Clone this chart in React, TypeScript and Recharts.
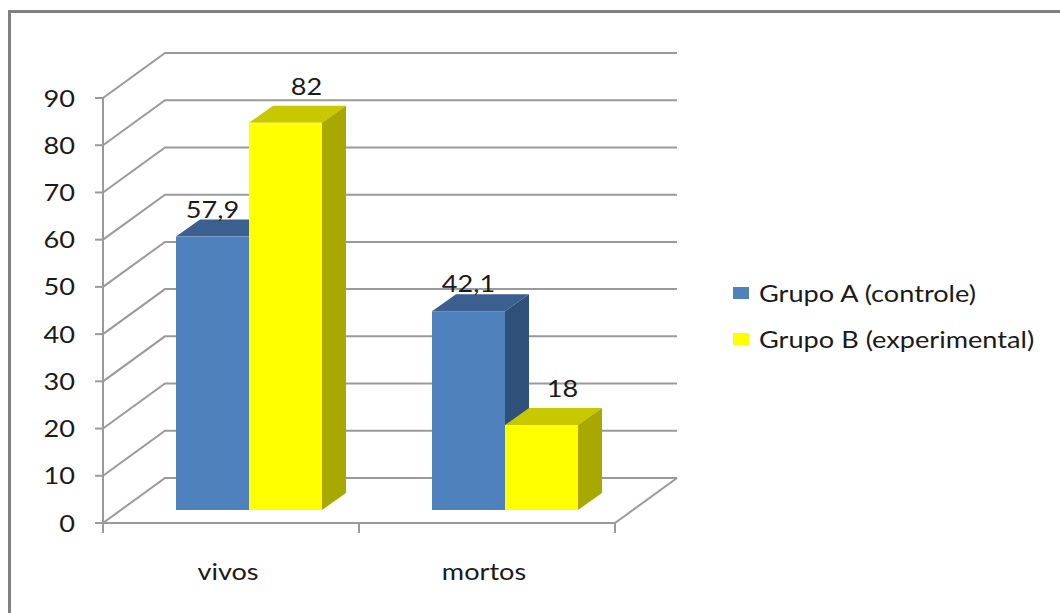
import { BarChart, Bar, XAxis, YAxis, CartesianGrid, Legend, LabelList } from 'recharts';

const categories = ['vivos', 'mortos'];
const grupoA = [57.9, 42.1];
const grupoB = [82, 18];
const yTicks = [0, 10, 20, 30, 40, 50, 60, 70, 80, 90];
const seriesNames = ['Grupo A (controle)', 'Grupo B (experimental)'];

const data = categories.map((name, i) => ({ name, a: grupoA[i], b: grupoB[i] }));

// layout of the fake 3D box
const PLOT_LEFT = 103;
const PLOT_RIGHT = 615;
const PLOT_BOTTOM = 523;
const HALF_BAND = (PLOT_RIGHT - PLOT_LEFT) / categories.length / 2;
const WALL_DX = 62;
const WALL_DY = -45;
const BAR_OX = 18;
const BAR_OY = -13;
const DEPTH_X = 24;
const DEPTH_Y = -17;
const FONT = 'Lato, "Open Sans", sans-serif';
const GRID = '#9a9a9a';
const TEXT = '#1a1a1a';
const SX = 1.13; // the original text is a little stretched sideways

const fmt = (v: number) => String(v).replace('.', ',');

function SText({ x, y, anchor, children, dy }: any) {
    return (
        <text
            transform={`translate(${x},${y}) scale(${SX},1)`}
            textAnchor={anchor}
            dy={dy}
            fontFamily={FONT}
            fontSize={24}
            fill={TEXT}
        >
            {children}
        </text>
    );
}

function box3d(front: string, top: string, side: string) {
    return (props: any) => {
        const { x, y, width, height } = props;
        const fx = x + BAR_OX;
        const fy = y + BAR_OY;
        return (
            <g>
                <polygon
                    points={`${fx},${fy} ${fx + DEPTH_X},${fy + DEPTH_Y} ${fx + width + DEPTH_X},${fy + DEPTH_Y} ${fx + width},${fy}`}
                    fill={top}
                />
                <polygon
                    points={`${fx + width},${fy} ${fx + width + DEPTH_X},${fy + DEPTH_Y} ${fx + width + DEPTH_X},${fy + height + DEPTH_Y} ${fx + width},${fy + height}`}
                    fill={side}
                />
                <rect x={fx} y={fy} width={width} height={height} fill={front} />
            </g>
        );
    };
}

function valueLabel(dx: number, dy: number) {
    return (props: any) => {
        const { x, y, width, value } = props;
        return (
            <SText x={x + BAR_OX + width / 2 + dx} y={y + BAR_OY + DEPTH_Y + dy} anchor="middle">
                {fmt(value)}
            </SText>
        );
    };
}

function wallLine(props: any) {
    const { x1, x2, y1 } = props;
    const y = y1;
    const isFloor = Math.abs(y - PLOT_BOTTOM) < 1;
    return (
        <g key={`wall-${y}`}>
            <polyline
                points={`${x1},${y} ${x1 + WALL_DX},${y + WALL_DY} ${x2 + WALL_DX},${y + WALL_DY}`}
                fill="none"
                stroke={GRID}
                strokeWidth={2}
            />
            {isFloor && (
                <line x1={x2} y1={y} x2={x2 + WALL_DX} y2={y + WALL_DY} stroke={GRID} strokeWidth={2} />
            )}
        </g>
    );
}

function XTick(props: any) {
    const { x, payload, index } = props;
    return (
        <g>
            <line x1={x - HALF_BAND} y1={PLOT_BOTTOM} x2={x - HALF_BAND} y2={PLOT_BOTTOM + 10} stroke={GRID} strokeWidth={2} />
            {index === categories.length - 1 && (
                <line x1={x + HALF_BAND} y1={PLOT_BOTTOM} x2={x + HALF_BAND} y2={PLOT_BOTTOM + 10} stroke={GRID} strokeWidth={2} />
            )}
            <SText x={x - 3} y={580} anchor="middle">
                {payload.value}
            </SText>
        </g>
    );
}

function YTick(props: any) {
    const { x, y, payload } = props;
    return (
        <SText x={x} y={y} anchor="end" dy="0.355em">
            {payload.value}
        </SText>
    );
}

function LegendBox() {
    const colors = ['#4F81BD', '#FFFF00'];
    return (
        <div style={{ fontFamily: FONT, fontSize: 23, color: TEXT }}>
            {seriesNames.map((n, i) => (
                <div key={n} style={{ display: 'flex', alignItems: 'center', height: 46 }}>
                    <span style={{ display: 'inline-block', width: 16, height: 12, background: colors[i], marginRight: 10 }} />
                    <span style={{ display: 'inline-block', transform: 'scaleX(1.18)', transformOrigin: 'left center', whiteSpace: 'nowrap' }}>
                        {n}
                    </span>
                </div>
            ))}
        </div>
    );
}

export default function App() {
    return (
        <div style={{ position: 'absolute', left: 0, top: 0, width: 1060, height: 613, overflow: 'hidden', background: '#fff' }}>
            <div
                style={{
                    position: 'absolute',
                    left: 8,
                    top: 10,
                    width: 1200,
                    height: 800,
                    borderTop: '3px solid #808080',
                    borderLeft: '3px solid #808080',
                }}
            />
            <BarChart
                width={1060}
                height={613}
                data={data}
                margin={{ top: 98, right: 445, bottom: 30, left: 0 }}
                barGap={0}
                barSize={73}
                style={{ position: 'absolute', left: 0, top: 0 }}
            >
                <CartesianGrid vertical={false} horizontal={wallLine} />
                <XAxis
                    dataKey="name"
                    height={60}
                    axisLine={{ stroke: GRID, strokeWidth: 2 }}
                    tickLine={false}
                    tick={<XTick />}
                    interval={0}
                />
                <YAxis
                    width={103}
                    domain={[0, 90]}
                    ticks={yTicks}
                    interval={0}
                    axisLine={{ stroke: GRID, strokeWidth: 2 }}
                    tickLine={{ stroke: GRID, strokeWidth: 2 }}
                    tickSize={8}
                    tickMargin={20}
                    tick={<YTick />}
                />
                <Legend
                    layout="vertical"
                    align="center"
                    verticalAlign="middle"
                    content={<LegendBox />}
                    wrapperStyle={{ left: 733, top: 270, width: 320 }}
                />
                <Bar dataKey="a" name={seriesNames[0]} fill="#4F81BD" isAnimationActive={false} shape={box3d('#4F81BD', '#3B6090', '#2F5078')}>
                    <LabelList dataKey="a" content={valueLabel(0, -2)} />
                </Bar>
                <Bar dataKey="b" name={seriesNames[1]} fill="#FFFF00" isAnimationActive={false} shape={box3d('#FFFF00', '#C8C800', '#A8A800')}>
                    <LabelList dataKey="b" content={valueLabel(DEPTH_X - 3, -11)} />
                </Bar>
            </BarChart>
        </div>
    );
}
